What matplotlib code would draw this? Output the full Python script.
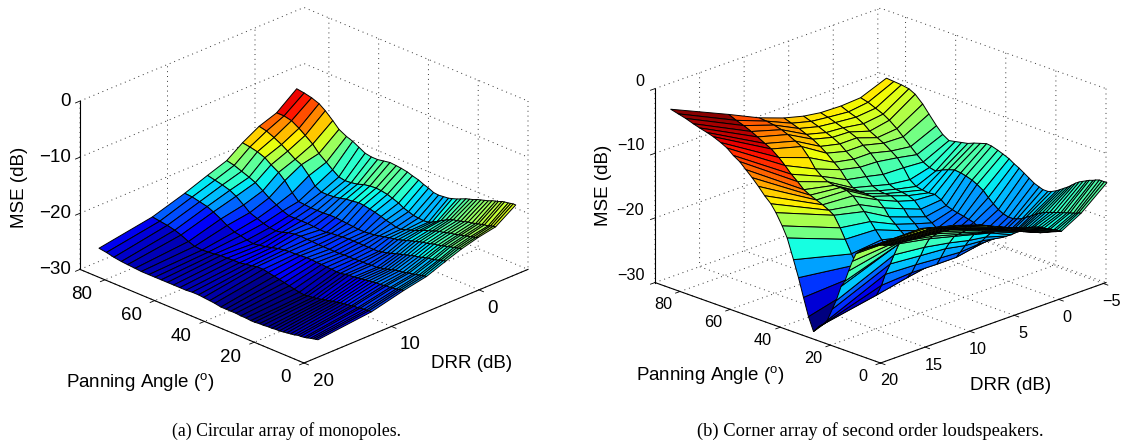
import numpy as np
import matplotlib
matplotlib.use('Agg')
import matplotlib.pyplot as plt
from matplotlib.colors import Normalize
from mpl_toolkits.mplot3d import proj3d

plt.rcParams['font.family'] = ['Liberation Sans', 'DejaVu Sans']
plt.rcParams['mathtext.default'] = 'regular'
plt.rcParams['grid.linestyle'] = (0, (1, 4))
plt.rcParams['grid.color'] = '#333333'
plt.rcParams['grid.linewidth'] = 0.7

# panning angle rows (deg), closer together at small angles
pan = [0, 1, 2, 3, 4.5, 5.5, 7, 8, 9.5, 11, 12.5, 14, 15.5, 17, 18.5, 20, 22, 23.5, 25.5, 27, 29, 31, 33,
       35, 37, 39, 41.5, 43.5, 46, 48, 50.5, 53, 55.5, 58, 60.5, 63, 65.5, 68, 71, 73.5, 76.5, 79, 82, 85, 88]

# left panel: circular array of monopoles
drr_a = [18.4, 12.3, 8.6, 6.0, 3.8, 2.0, 0.1, -1.9, -4.2]
mse_a = [
    [-26.9, -25.9, -24.5, -23.7, -22.4, -21.4, -20.6, -20.0, -17.6],
    [-27.0, -25.9, -24.6, -23.8, -22.5, -21.5, -20.8, -20.1, -17.6],
    [-27.1, -26.0, -24.7, -23.9, -22.6, -21.6, -20.9, -20.2, -17.7],
    [-27.2, -26.0, -24.8, -24.0, -22.8, -21.7, -21.0, -20.4, -17.8],
    [-27.4, -26.1, -24.9, -24.2, -23.0, -21.9, -21.2, -20.5, -17.9],
    [-27.5, -26.2, -25.0, -24.3, -23.1, -22.0, -21.3, -20.6, -18.0],
    [-27.6, -26.2, -25.0, -24.4, -23.2, -22.2, -21.5, -20.8, -18.3],
    [-27.6, -26.3, -25.1, -24.5, -23.3, -22.3, -21.6, -20.9, -18.4],
    [-27.8, -26.4, -25.2, -24.7, -23.5, -22.5, -21.8, -21.1, -18.6],
    [-27.9, -26.5, -25.2, -24.8, -23.7, -22.6, -21.9, -21.2, -18.9],
    [-28.0, -26.6, -25.3, -24.9, -23.8, -22.8, -22.1, -21.4, -19.1],
    [-28.1, -26.8, -25.4, -25.1, -24.0, -23.0, -22.3, -21.6, -19.3],
    [-28.2, -26.9, -25.5, -25.3, -24.2, -23.1, -22.4, -21.8, -19.5],
    [-28.2, -27.1, -25.6, -25.5, -24.4, -23.3, -22.6, -21.9, -19.8],
    [-28.3, -27.2, -25.7, -25.6, -24.6, -23.5, -22.9, -22.2, -20.0],
    [-28.3, -27.4, -25.8, -25.8, -24.8, -23.7, -23.1, -22.5, -20.2],
    [-28.4, -27.6, -25.9, -25.8, -25.1, -24.0, -23.4, -23.0, -20.6],
    [-28.4, -27.7, -26.0, -25.9, -25.3, -24.2, -23.7, -23.4, -20.9],
    [-28.5, -27.8, -26.2, -25.9, -25.5, -24.5, -24.1, -23.9, -21.2],
    [-28.5, -27.9, -26.2, -25.9, -25.7, -24.6, -24.3, -24.2, -21.4],
    [-28.4, -27.8, -26.1, -26.0, -25.7, -24.8, -24.6, -24.3, -21.5],
    [-28.4, -27.6, -26.1, -26.0, -25.7, -25.0, -24.9, -24.2, -21.6],
    [-28.3, -27.4, -26.0, -26.0, -25.7, -25.2, -24.9, -24.1, -21.5],
    [-28.3, -27.2, -26.0, -26.1, -25.7, -25.4, -24.6, -23.8, -21.1],
    [-28.3, -27.0, -25.9, -26.1, -25.7, -25.5, -24.4, -23.5, -20.8],
    [-28.3, -26.8, -25.9, -26.1, -25.7, -25.6, -24.1, -23.0, -20.4],
    [-28.1, -26.6, -26.0, -26.1, -25.8, -25.6, -23.8, -22.6, -20.1],
    [-28.0, -26.4, -26.1, -26.1, -25.9, -25.5, -23.6, -22.3, -19.8],
    [-27.9, -26.4, -26.1, -26.0, -26.0, -25.4, -23.4, -22.1, -19.6],
    [-27.8, -26.6, -26.2, -26.0, -26.2, -25.3, -23.3, -22.0, -19.5],
    [-27.8, -26.8, -26.4, -25.9, -26.2, -25.2, -23.5, -22.1, -19.4],
    [-27.9, -27.0, -26.7, -26.0, -26.1, -25.2, -23.6, -22.3, -19.6],
    [-27.9, -27.0, -27.0, -26.2, -26.0, -25.3, -23.9, -22.7, -19.8],
    [-27.9, -27.1, -27.2, -26.6, -26.0, -25.3, -24.1, -22.9, -19.8],
    [-27.9, -27.1, -27.4, -26.8, -26.0, -25.3, -24.2, -23.0, -19.6],
    [-27.9, -27.3, -27.2, -26.7, -26.0, -25.2, -24.2, -22.8, -19.0],
    [-27.9, -27.4, -26.9, -26.4, -25.6, -25.1, -23.6, -22.0, -18.4],
    [-27.9, -27.5, -26.7, -26.0, -25.0, -24.0, -22.2, -21.1, -18.0],
    [-27.9, -27.4, -26.1, -25.5, -24.3, -22.4, -20.8, -20.1, -17.3],
    [-27.8, -27.0, -25.4, -24.6, -23.5, -21.4, -20.3, -18.9, -16.2],
    [-27.7, -26.4, -24.7, -23.6, -22.6, -20.6, -19.4, -17.9, -15.0],
    [-27.6, -26.0, -24.2, -23.0, -22.1, -19.8, -18.7, -17.1, -14.2],
    [-27.4, -25.7, -23.9, -22.6, -21.6, -19.3, -18.0, -16.3, -13.7],
    [-27.1, -25.5, -23.6, -22.3, -21.1, -19.0, -17.4, -16.0, -13.4],
    [-26.9, -25.3, -23.5, -22.0, -20.8, -18.8, -17.1, -16.0, -13.2],
]

# right panel: corner array of second order loudspeakers
drr_b = [18.8, 12.3, 8.9, 6.1, 3.9, 2.0, -0.3, -2.5, -5.4]
mse_b = [
    [-12.4, -13.2, -14.9, -16.3, -17.6, -18.7, -19.6, -17.9, -14.6],
    [-12.5, -13.3, -14.9, -16.4, -17.7, -18.8, -19.7, -18.0, -14.6],
    [-12.6, -13.4, -15.0, -16.4, -17.7, -18.8, -19.7, -18.2, -14.6],
    [-12.8, -13.5, -15.1, -16.5, -17.8, -18.9, -19.8, -18.3, -14.6],
    [-13.0, -13.7, -15.1, -16.5, -17.9, -19.0, -19.9, -18.5, -14.8],
    [-13.2, -13.8, -15.2, -16.6, -17.9, -19.0, -20.0, -18.6, -15.0],
    [-13.5, -14.0, -15.3, -16.6, -18.0, -19.1, -20.1, -18.8, -15.2],
    [-13.8, -14.2, -15.4, -16.7, -18.1, -19.2, -20.1, -18.9, -15.4],
    [-14.1, -14.3, -15.5, -16.8, -18.2, -19.3, -20.3, -19.1, -15.7],
    [-14.5, -14.5, -15.8, -17.1, -18.4, -19.5, -20.5, -19.3, -16.0],
    [-15.0, -15.0, -16.2, -17.5, -18.8, -19.8, -20.9, -19.5, -16.4],
    [-15.6, -15.6, -16.7, -18.0, -19.2, -20.1, -21.2, -19.7, -16.9],
    [-17.0, -16.2, -17.3, -18.5, -19.6, -20.4, -21.5, -20.0, -17.4],
    [-18.7, -16.8, -17.8, -19.0, -20.0, -20.8, -22.0, -20.3, -17.8],
    [-20.5, -17.5, -18.4, -19.5, -20.4, -21.1, -22.4, -20.7, -18.2],
    [-21.5, -18.1, -19.0, -20.0, -20.8, -21.5, -22.9, -21.1, -18.6],
    [-24.0, -20.1, -20.6, -21.3, -22.0, -22.4, -23.4, -21.6, -19.0],
    [-25.5, -21.7, -22.1, -22.4, -23.0, -23.2, -23.8, -22.0, -19.2],
    [-27.5, -23.6, -23.8, -24.1, -24.3, -24.1, -24.1, -22.3, -19.2],
    [-28.3, -25.5, -25.2, -25.3, -25.3, -24.8, -24.3, -22.5, -19.0],
    [-29.0, -27.3, -26.3, -25.6, -25.3, -24.8, -24.3, -22.5, -18.7],
    [-30.0, -26.7, -25.7, -25.2, -25.1, -24.7, -24.0, -22.3, -18.2],
    [-28.0, -25.7, -24.8, -24.5, -24.7, -24.7, -23.6, -21.9, -17.7],
    [-25.3, -24.8, -23.8, -24.0, -24.4, -24.6, -23.1, -21.3, -17.2],
    [-22.5, -23.7, -22.7, -23.4, -24.2, -24.5, -22.9, -20.6, -16.8],
    [-20.0, -22.3, -21.8, -22.8, -23.9, -24.2, -22.7, -19.8, -16.3],
    [-17.0, -20.4, -20.6, -22.1, -23.2, -23.8, -22.5, -19.2, -15.9],
    [-15.4, -18.9, -19.6, -21.4, -22.4, -23.2, -22.3, -18.8, -15.6],
    [-13.7, -17.3, -18.4, -20.6, -21.7, -22.6, -22.0, -18.5, -15.3],
    [-12.6, -16.8, -17.6, -19.5, -20.7, -21.7, -21.4, -18.3, -15.2],
    [-11.7, -16.3, -16.6, -18.6, -19.9, -20.7, -20.9, -18.2, -15.5],
    [-10.6, -15.9, -16.1, -18.4, -19.4, -20.3, -21.0, -18.5, -15.8],
    [-9.6, -15.5, -16.0, -18.3, -19.4, -20.1, -20.9, -18.9, -16.2],
    [-8.7, -15.0, -16.0, -18.3, -19.3, -20.0, -20.7, -19.4, -16.4],
    [-7.8, -14.1, -15.8, -18.1, -18.9, -19.6, -20.0, -19.2, -16.6],
    [-7.2, -13.3, -15.3, -17.2, -17.8, -18.4, -18.5, -18.7, -16.8],
    [-6.4, -12.3, -14.5, -16.0, -16.7, -16.8, -17.3, -17.9, -16.2],
    [-5.9, -11.4, -13.1, -15.2, -15.8, -15.8, -16.6, -17.0, -15.2],
    [-5.4, -10.5, -11.8, -14.2, -15.0, -15.0, -15.8, -15.9, -13.8],
    [-5.1, -10.0, -11.3, -13.5, -14.2, -14.2, -15.3, -15.0, -12.6],
    [-4.8, -9.4, -10.7, -12.8, -13.6, -13.7, -14.7, -14.1, -11.5],
    [-4.5, -8.9, -10.3, -12.4, -13.2, -13.4, -13.9, -13.5, -11.0],
    [-4.1, -8.4, -10.0, -11.9, -12.7, -13.0, -13.3, -13.0, -10.8],
    [-3.8, -8.0, -9.8, -11.5, -12.3, -12.6, -12.9, -12.5, -10.7],
    [-3.5, -7.5, -9.7, -11.1, -11.9, -12.3, -12.4, -12.2, -10.6],
]

pan_ticks = [0, 20, 40, 60, 80]
drr_ticks_a = [0, 10, 20]
drr_ticks_b = [-5, 0, 5, 10, 15, 20]
mse_ticks = [-30, -20, -10, 0]

W, H = 1124, 443
fig = plt.figure(figsize=(W / 100, H / 100), dpi=100)
jet = plt.get_cmap('jet')


def corner(ax, x, y, z):
    xs, ys, _ = proj3d.proj_transform(x, y, z, ax.get_proj())
    return ax.transData.transform((xs, ys))


def panel(drr, mse, drr_ticks, drr_end, elev, box, front, right_x, clim, tick_size, pads, pan_align, drr_align, z_va):
    side = 560
    ax = fig.add_axes([0, 0, side / W, side / H], projection='3d', proj_type='ortho')
    ax.patch.set_alpha(0)
    ax.view_init(elev=elev, azim=-135)
    ax.set_xlim(20, drr_end, view_margin=0)
    ax.set_ylim(0, 90, view_margin=0)
    ax.set_zlim(-30, 0, view_margin=0)
    ax.set_box_aspect(box)

    # scale and move the box so the floor corners land where they should
    ax.apply_aspect()
    a = corner(ax, 20, 0, -30)
    b = corner(ax, drr_end, 0, -30)
    ax.set_box_aspect(box, zoom=(right_x - front[0]) / (b[0] - a[0]))
    a = corner(ax, 20, 0, -30)
    ax.set_position([(front[0] - a[0]) / W, ((H - front[1]) - a[1]) / H, side / W, side / H])

    DRR, PAN = np.meshgrid(drr, pan)
    Z = np.array(mse)
    # flat facets coloured from one corner, like matlab surf
    surf = ax.plot_surface(DRR, PAN, Z, facecolors=jet(Normalize(*clim)(Z)),
                           rstride=1, cstride=1, linewidth=0.7, shade=False)
    surf.set_edgecolor('k')

    ax.set_xticks(drr_ticks)
    ax.set_yticks(pan_ticks)
    ax.set_zticks(mse_ticks)
    ax.tick_params(axis='x', labelsize=tick_size, pad=pads[0])
    ax.tick_params(axis='y', labelsize=tick_size, pad=pads[1])
    ax.tick_params(axis='z', labelsize=tick_size, pad=pads[2])
    for axis in (ax.xaxis, ax.yaxis, ax.zaxis):
        axis.set_pane_color((1, 1, 1, 0))
        axis.pane.set_edgecolor('#333333')
        axis.pane.set_linestyle((0, (1, 4)))
        axis.pane.set_linewidth(0.7)
        axis.line.set_linewidth(0.8)
        axis._axinfo['tick']['inward_factor'] = 0.25
        axis._axinfo['tick']['outward_factor'] = 0.0
        axis._axinfo['tick']['linewidth'] = {True: 0.6, False: 0.4}
    ax.zaxis.set_ticks_position('upper')
    for t in ax.yaxis.get_ticklabels():
        t.set_ha(pan_align[0])
        t.set_va(pan_align[1])
    for t in ax.xaxis.get_ticklabels():
        t.set_ha(drr_align)
    for t in ax.zaxis.get_ticklabels():
        t.set_ha('right')
        t.set_va(z_va)
    return ax


panel(drr_a, mse_a, drr_ticks_a, -5.6, 24.7, (318, 318, 186), (304, 363), 528,
      (-28.5, -14.7), 13.5, (0, 4, -3.8), ('right', 'center'), 'left', 'center')
panel(drr_b, mse_b, drr_ticks_b, -5.3, 20.9, (318, 318, 207), (880.5, 363), 1106,
      (-30, -3.5), 11.7, (0, 8, -3), ('center', 'bottom'), 'center', 'bottom')

label_size = 13.5
fig.text(140 / W, 1 - 382 / H, 'Panning Angle ($^{o}$)', ha='center', va='center', fontsize=label_size)
fig.text(472 / W, 1 - 363 / H, 'DRR (dB)', ha='center', va='center', fontsize=label_size)
fig.text(20 / W, 1 - 187 / H, 'MSE (dB)', ha='center', va='center', rotation=90, fontsize=label_size)
fig.text(710 / W, 1 - 375 / H, 'Panning Angle ($^{o}$)', ha='center', va='center', fontsize=label_size)
fig.text(1011 / W, 1 - 385 / H, 'DRR (dB)', ha='center', va='center', fontsize=label_size)
fig.text(603 / W, 1 - 185 / H, 'MSE (dB)', ha='center', va='center', rotation=90, fontsize=label_size)

fig.text(287 / W, 1 - 431 / H, '(a) Circular array of monopoles.', ha='center', va='center',
         family='Liberation Serif', fontsize=12.8)
fig.text(870 / W, 1 - 431 / H, '(b) Corner array of second order loudspeakers.', ha='center', va='center',
         family='Liberation Serif', fontsize=13.3)

fig.savefig('out.png', dpi=100)
